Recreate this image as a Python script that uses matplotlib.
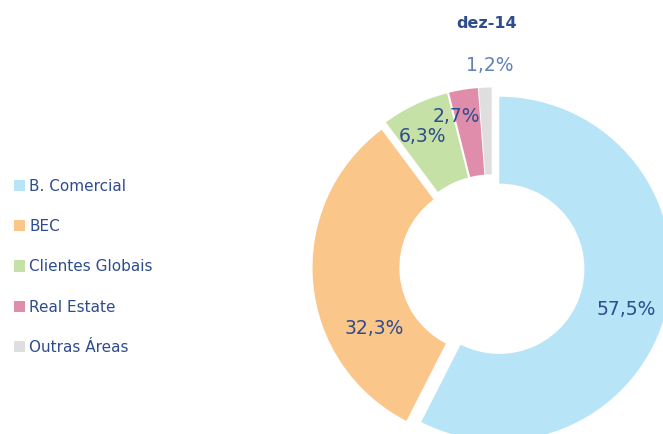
"""Donut chart of the split by business area, dez-14."""

import numpy as np
import matplotlib.pyplot as plt

areas = ['B. Comercial', 'BEC', 'Clientes Globais', 'Real Estate', 'Outras Áreas']
shares = [57.5, 32.3, 6.3, 2.7, 1.2]
pct_labels = ['57,5%', '32,3%', '6,3%', '2,7%', '1,2%']
colors = ['#B7E4F7', '#FBC68A', '#C6E1A6', '#E08DAB', '#DEDEDE']
title = 'dez-14'

TEXT = '#2E4C8E'


def main():
    fig = plt.figure(figsize=(6.63, 4.34), dpi=100)
    # axes in pixel units so the donut can sit where it does in the picture
    ax = fig.add_axes([0, 0, 1, 1])

    cx, cy, radius = 492, 167, 172
    wedges, _ = ax.pie(shares, colors=colors, startangle=90,
                       counterclock=False, radius=radius, center=(cx, cy),
                       explode=[7.5] * len(shares),
                       wedgeprops=dict(width=radius * 0.505, linewidth=0),
                       frame=True)
    ax.set_xlim(0, 663)
    ax.set_ylim(0, 434)
    ax.set_aspect('equal')
    ax.axis('off')

    # (radial fraction, angle shift in degrees) for each value label
    placing = [(0.82, -4), (0.77, 22.6), (0.86, 2.7), (0.90, 4), (1.17, -1.5)]
    for wedge, lab, (d, shift) in zip(wedges, pct_labels, placing):
        ang = np.deg2rad((wedge.theta1 + wedge.theta2) / 2 + shift)
        x = cx + d * radius * np.cos(ang)
        y = cy + d * radius * np.sin(ang)
        ax.text(x, y, lab, ha='center', va='center', fontsize=13.5,
                color=TEXT if d < 1 else '#6282BC')

    ax.text(487, 411, title, ha='center', va='center', fontsize=11.5,
            fontweight='bold', color=TEXT)

    fig.legend(wedges, areas, loc='upper left', bbox_to_anchor=(0.0, 0.62),
               frameon=False, handlelength=0.75, handleheight=0.75,
               handletextpad=0.25, labelspacing=1.66, fontsize=11,
               labelcolor=TEXT)

    plt.savefig('out.png', dpi=100)
    plt.close()


if __name__ == '__main__':
    main()
